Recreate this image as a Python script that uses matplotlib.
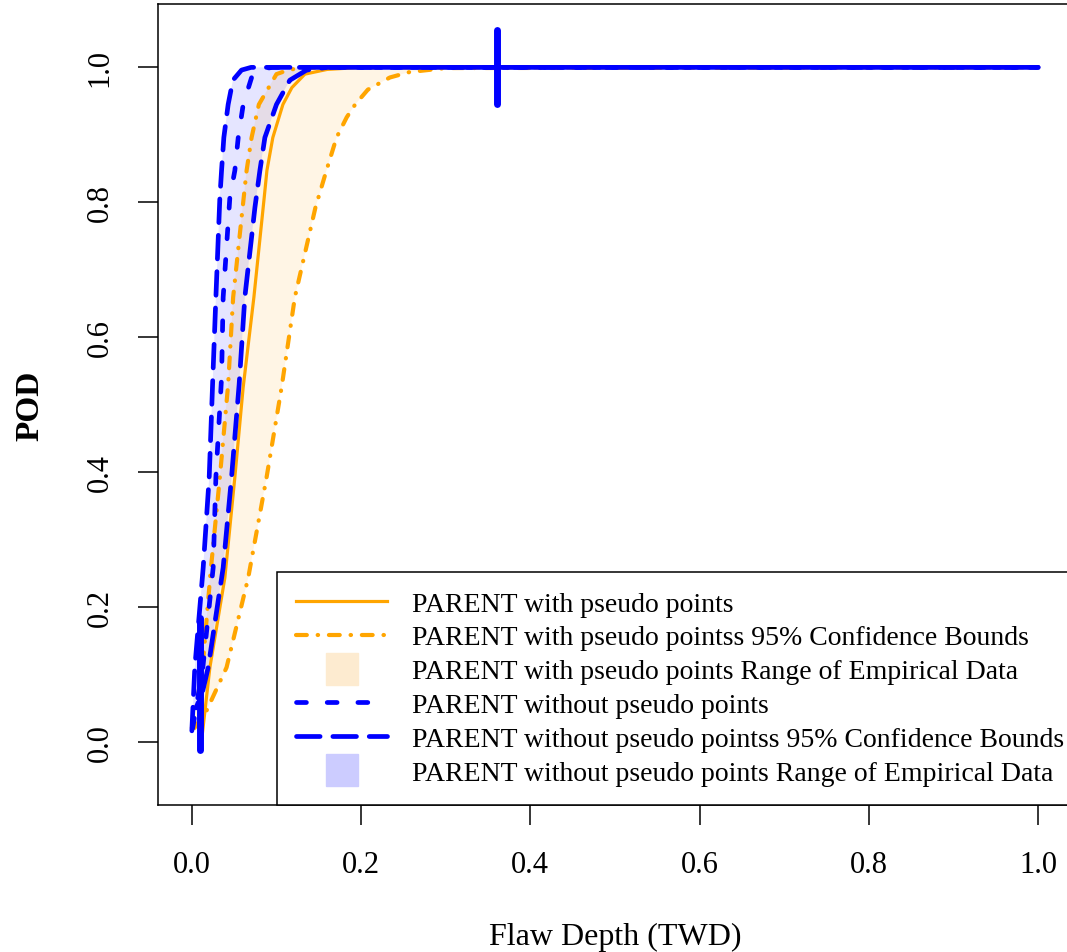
import numpy as np
import matplotlib
matplotlib.use("Agg")
import matplotlib.pyplot as plt
from matplotlib.lines import Line2D

plt.rcParams['font.family'] = ['Liberation Serif', 'DejaVu Serif']

# PARENT with pseudo points: POD curve and 95% bounds
with_x = [0.0103, 0.0213, 0.039, 0.0508, 0.0606, 0.0733, 0.0855, 0.0887, 0.0957, 0.1076, 0.1182, 0.1336, 0.16, 0.20, 0.30, 1.0]
with_y = [-0.012, 0.110, 0.243, 0.392, 0.525, 0.659, 0.807, 0.847, 0.896, 0.945, 0.970, 0.990, 0.997, 1.0, 1.0, 1.0]
with_up_x = [0.0, 0.012, 0.022, 0.0331, 0.0429, 0.0488, 0.060, 0.0647, 0.0706, 0.0792, 0.100, 0.116, 0.15, 1.0]
with_up_y = [0.02, 0.10, 0.25, 0.392, 0.530, 0.659, 0.792, 0.847, 0.896, 0.945, 0.990, 0.997, 1.0, 1.0]
with_lo_x = [0.003, 0.0174, 0.041, 0.0666, 0.0883, 0.106, 0.1217, 0.146, 0.159, 0.171, 0.183, 0.193, 0.208, 0.234, 0.257, 0.30, 1.0]
with_lo_y = [0.02, 0.046, 0.110, 0.243, 0.392, 0.525, 0.659, 0.792, 0.847, 0.896, 0.926, 0.945, 0.967, 0.985, 0.993, 0.999, 1.0]

# PARENT without pseudo points: POD curve and 95% bounds
wo_x = [0.001, 0.013, 0.0252, 0.0284, 0.0351, 0.037, 0.0449, 0.0508, 0.0548, 0.0607, 0.0706, 0.0804, 0.095, 1.0]
wo_y = [0.02, 0.110, 0.258, 0.392, 0.540, 0.659, 0.807, 0.847, 0.896, 0.945, 0.985, 0.997, 1.0, 1.0]
wo_up_x = [0.0, 0.0035, 0.0134, 0.0205, 0.0245, 0.0284, 0.0331, 0.0351, 0.0378, 0.0429, 0.0485, 0.0587, 0.07, 1.0]
wo_up_y = [0.016, 0.110, 0.258, 0.392, 0.530, 0.659, 0.807, 0.847, 0.896, 0.945, 0.981, 0.996, 1.0, 1.0]
wo_lo_x = [0.005, 0.013, 0.0193, 0.037, 0.0469, 0.0559, 0.0626, 0.0745, 0.0804, 0.0863, 0.100, 0.1158, 0.1356, 0.16, 1.0]
wo_lo_y = [0.05, 0.076, 0.110, 0.258, 0.392, 0.530, 0.659, 0.792, 0.847, 0.896, 0.945, 0.981, 0.996, 1.0, 1.0]

# empirical data range markers
range_x = [0.0095, 0.36]
range_y0 = [-0.012, 0.945]
range_y1 = [0.184, 1.055]

labels = ["PARENT with pseudo points",
          "PARENT with pseudo pointss 95% Confidence Bounds",
          "PARENT with pseudo points Range of Empirical Data",
          "PARENT without pseudo points",
          "PARENT without pseudo pointss 95% Confidence Bounds",
          "PARENT without pseudo points Range of Empirical Data"]

ORANGE = "#FFA500"
BLUE = "#0000FF"
dotdash = (0, (2.6, 2.6, 0.1, 2.6))
dashed = (0, (2.1, 4.4))
longdash = (0, (5.0, 2.7))
longdash2 = (3.8, (5.0, 2.7))

fig = plt.figure(figsize=(10.67, 9.53), dpi=100)
ax = fig.add_axes([158/1067, 147/953, 914/1067, 801/953])

# orange set
ax.plot(with_x, with_y, color=ORANGE, lw=2.3)
ax.plot(with_up_x, with_up_y, color=ORANGE, lw=3.0, ls=dotdash, dash_capstyle='round')
ax.plot(with_lo_x, with_lo_y, color=ORANGE, lw=3.0, ls=dotdash, dash_capstyle='round')
ax.fill(np.concatenate([with_up_x, with_lo_x[::-1]]), np.concatenate([with_up_y, with_lo_y[::-1]]),
        color=ORANGE, alpha=0.1, lw=0)

# blue set
ax.plot(wo_x, wo_y, color=BLUE, lw=3.4, ls=dashed, dash_capstyle='round')
ax.plot(wo_up_x, wo_up_y, color=BLUE, lw=3.4, ls=longdash, dash_capstyle='round')
ax.plot(wo_lo_x, wo_lo_y, color=BLUE, lw=3.4, ls=longdash2, dash_capstyle='round')
ax.fill(np.concatenate([wo_up_x, wo_lo_x[::-1]]), np.concatenate([wo_up_y, wo_lo_y[::-1]]),
        color=BLUE, alpha=0.1, lw=0)

for rx, a, b in zip(range_x, range_y0, range_y1):
    ax.plot([rx, rx], [a, b], color=BLUE, lw=5, solid_capstyle='round')

ax.set_xlim(-0.04, 1.04)
ax.set_ylim(-0.094, 1.094)
ax.set_xticks([0.0, 0.2, 0.4, 0.6, 0.8, 1.0])
ax.set_yticks([0.0, 0.2, 0.4, 0.6, 0.8, 1.0])
ax.set_xticklabels(["0.0", "0.2", "0.4", "0.6", "0.8", "1.0"])
ax.set_yticklabels(["0.0", "0.2", "0.4", "0.6", "0.8", "1.0"])
ax.tick_params(direction='out', length=14.4, width=1.1, labelsize=22)
ax.tick_params(axis='x', pad=18)
ax.tick_params(axis='y', pad=17, labelrotation=90)
for t in ax.get_yticklabels():
    t.set_va('center')
for s in ax.spines.values():
    s.set_linewidth(1.1)

ax.set_xlabel("Flaw Depth (TWD)", fontsize=23)
ax.xaxis.set_label_coords(0.5, (806 - 937) / 801)
ax.xaxis.label.set_va('center')
ax.set_ylabel("POD", fontsize=24, fontweight='bold')
ax.yaxis.set_label_coords((30 - 158) / 914, 0.5)
ax.yaxis.label.set_va('center')

handles = [
    Line2D([], [], color=ORANGE, lw=2.3),
    Line2D([], [], color=ORANGE, lw=3.0, ls=dotdash, dash_capstyle='round'),
    Line2D([], [], marker='s', markersize=23, color='#FDEBD0', ls='None'),
    Line2D([], [], color=BLUE, lw=3.4, ls=dashed, dash_capstyle='round'),
    Line2D([], [], color=BLUE, lw=3.4, ls=longdash, dash_capstyle='round'),
    Line2D([], [], marker='s', markersize=23, color='#CCCCFF', ls='None'),
]
x0 = (277 - 158) / 914
leg = ax.legend(handles, labels, loc='lower left', bbox_to_anchor=(x0, 0, 1 - x0, 0.3),
                mode='expand', borderaxespad=0, fontsize=20, frameon=True, fancybox=False,
                edgecolor='black', framealpha=1, handlelength=3.25, handletextpad=0.9,
                labelspacing=0.3, borderpad=0.7)
leg.get_frame().set_linewidth(1.1)

fig.savefig("out.png", dpi=100)
